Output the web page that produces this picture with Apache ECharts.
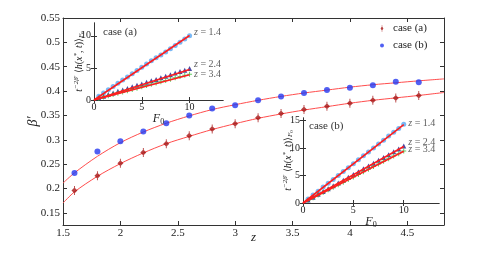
<!DOCTYPE html>
<html><head><meta charset="utf-8">
<script src="https://cdn.jsdelivr.net/npm/echarts@6/dist/echarts.min.js"></script>
<style>html,body{margin:0;padding:0;background:#fff}#c{width:491px;height:253px}</style>
</head><body><div id="c"></div>
<script>
// ---- main chart data ----
const zVals   = [1.6,1.8,2.0,2.2,2.4,2.6,2.8,3.0,3.2,3.4,3.6,3.8,4.0,4.2,4.4,4.6];
const betaA   = [0.196,0.226,0.252,0.274,0.292,0.308,0.322,0.333,0.345,0.354,0.362,0.369,0.375,0.381,0.386,0.391];
const betaB   = [0.232,0.276,0.297,0.317,0.334,0.350,0.364,0.371,0.381,0.389,0.396,0.402,0.407,0.412,0.419,0.418];
const fitZ    = [1.5,1.6,1.8,2.0,2.2,2.4,2.6,2.8,3.0,3.2,3.4,3.6,3.8,4.0,4.2,4.4,4.6,4.82];
const fitA    = [0.170,0.193,0.225,0.251,0.273,0.292,0.307,0.321,0.333,0.344,0.353,0.361,0.368,0.375,0.381,0.386,0.391,0.397];
const fitB    = [0.211,0.232,0.266,0.294,0.316,0.334,0.349,0.362,0.372,0.381,0.389,0.396,0.402,0.408,0.413,0.417,0.421,0.425];
const xTicks  = [1.5,2,2.5,3,3.5,4,4.5];
const yTicks  = [0.15,0.2,0.25,0.3,0.35,0.4,0.45,0.5,0.55];
// ---- inset data ----
const F0 = [0.5,1,1.5,2,2.5,3,3.5,4,4.5,5,5.5,6,6.5,7,7.5,8,8.5,9,9.5,10];
const insA_z14 = [0.6,1.1,1.6,2.1,2.6,3.1,3.6,4.1,4.6,5.1,5.6,6.1,6.6,7.0,7.5,8.0,8.5,9.0,9.5,10.0];
const insA_z24 = [0.35,0.6,0.85,1.1,1.35,1.55,1.8,2.05,2.3,2.5,2.75,3.0,3.2,3.45,3.7,3.95,4.2,4.45,4.65,4.9];
const insA_z34 = [0.25,0.45,0.65,0.85,1.05,1.25,1.45,1.65,1.85,2.05,2.25,2.45,2.65,2.85,3.05,3.25,3.45,3.65,3.85,4.0];
const insB_z14 = [0.75,1.45,2.15,2.9,3.6,4.3,5.0,5.75,6.45,7.15,7.9,8.6,9.3,10.05,10.75,11.45,12.2,12.9,13.6,14.35];
const insB_z24 = [0.55,1.05,1.6,2.1,2.6,3.15,3.65,4.15,4.7,5.2,5.7,6.25,6.75,7.25,7.8,8.3,8.8,9.35,9.85,10.4];
const insB_z34 = [0.5,0.95,1.45,1.9,2.4,2.85,3.35,3.8,4.3,4.75,5.2,5.7,6.15,6.65,7.1,7.6,8.05,8.55,9.0,9.5];
const fitF0 = [0,10];
const insA_fit14 = [0,10.05], insA_fit24 = [0,4.75], insA_fit34 = [0,3.95];
const insB_fit14 = [0,14.3],  insB_fit24 = [0,10.3], insB_fit34 = [0,9.45];
const insTicksX = [0,5,10];
const insATicksY = [0,5,10];
const insBTicksY = [0,5,10,15];

const FONT = 'Liberation Serif';
const AX = '#333';
const pair = (xs, ys) => xs.map((x,i)=>[x, ys[i]]);

const diamondBar = 'path://M0,-10 L6,0 L0,10 L-6,0 Z M-0.9,-15 L0.9,-15 L0.9,15 L-0.9,15 Z';
const plusPath = 'path://M-1,-5 L1,-5 L1,-1 L5,-1 L5,1 L1,1 L1,5 L-1,5 L-1,1 L-5,1 L-5,-1 L-1,-1 Z';

function axisPair(grid, min, max, ticks, isX, opts) {
  const z = opts.z || 0;
  const base = {
    type:'value', gridIndex:grid, min:min, max:max, z:z,
    axisLine:{show:true, lineStyle:{color:AX, width:1}},
    axisTick:{show:true, inside:true, length:opts.tickLen||4, customValues:ticks, lineStyle:{color:AX}},
    splitLine:{show:false}
  };
  const a = Object.assign({}, base, {
    position: isX ? 'bottom' : 'left',
    nameMoveOverlap:false,
    axisLabel:{show:true, customValues:ticks, fontFamily:FONT, fontSize:opts.fs||11, color:'#222', margin:opts.margin||3},
  }, opts.extra||{});
  const b = Object.assign({}, base, {
    position: isX ? 'top' : 'right',
    axisLabel:{show:false}
  });
  return [a,b];
}

const xAxes = [], yAxes = [];
// main
xAxes.push(...axisPair(0, 1.5, 4.82, xTicks, true, {fs:11, margin:3, extra:{
  name:'z', nameLocation:'middle', nameGap:6, nameMoveOverlap:false,
  nameTextStyle:{fontFamily:FONT, fontStyle:'italic', fontSize:13, color:'#222', verticalAlign:'top'}}}));
yAxes.push(...axisPair(0, 0.125, 0.55, yTicks, false, {fs:11, margin:3, extra:{
  name:'β′', nameLocation:'middle', nameGap:23, nameRotate:90, nameMoveOverlap:false,
  nameTextStyle:{fontFamily:FONT, fontStyle:'italic', fontSize:14, color:'#222'}}}));
// inset a
const yName = '{t|t}{sup|−2β′}{n| ⟨}{t|h}{n|(}{t|x}{sup|*}{n|, }{t|t}{n|)⟩}{sub|F}{sub2|0}';
const yNameStyle = {fontFamily:FONT, color:'#222', fontSize:10,
  rich:{
    t:{fontFamily:FONT, fontStyle:'italic', fontSize:10, color:'#222'},
    n:{fontFamily:FONT, fontSize:10, color:'#222'},
    sup:{fontFamily:FONT, fontStyle:'italic', fontSize:7, color:'#222', verticalAlign:'top', padding:[0,0,5,0]},
    sub:{fontFamily:FONT, fontStyle:'italic', fontSize:7, color:'#222', verticalAlign:'bottom', padding:[5,0,0,0]},
    sub2:{fontFamily:FONT, fontSize:5, color:'#222', verticalAlign:'bottom', padding:[7,0,0,0]}
  }};
const F0name = '{t|F}{s|0}';
const F0style = {fontFamily:FONT, fontSize:12, color:'#222',
  rich:{t:{fontFamily:FONT, fontStyle:'italic', fontSize:12, color:'#222'},
        s:{fontFamily:FONT, fontSize:8, color:'#222', verticalAlign:'bottom', padding:[6,0,0,0]}}};
xAxes.push(...axisPair(1, 0, 13.5, insTicksX, true, {z:11, fs:10, margin:2, tickLen:3, extra:{
  name:F0name, nameLocation:'middle', nameGap:12, nameMoveOverlap:false, nameTextStyle:F0style}}));
yAxes.push(...axisPair(1, 0, 12, insATicksY, false, {z:11, fs:10, margin:3, tickLen:3, extra:{
  name:yName, nameLocation:'middle', nameGap:9, nameRotate:90, nameMoveOverlap:false, nameTextStyle:yNameStyle}}));
// inset b
xAxes.push(...axisPair(2, 0, 13.5, insTicksX, true, {z:11, fs:10, margin:2, tickLen:3, extra:{
  name:F0name, nameLocation:'middle', nameGap:12, nameMoveOverlap:false, nameTextStyle:F0style}}));
yAxes.push(...axisPair(2, 0, 15.5, insBTicksY, false, {z:11, fs:10, margin:3, tickLen:3, extra:{
  name:yName, nameLocation:'middle', nameGap:9, nameRotate:90, nameMoveOverlap:false, nameTextStyle:yNameStyle}}));

const LBLUE = '#58a6f2', NAVY = '#1b1b8c', GREEN = '#3cc03c', RED = '#ff1e1e';

function zLabel(txt, off) {
  return {show:true, position:'right', distance:2, offset:off,
    formatter:'{i|z}{n| = ' + txt + '}',
    rich:{i:{fontFamily:FONT, fontStyle:'italic', fontSize:10, color:'#333'},
          n:{fontFamily:FONT, fontSize:10, color:'#333'}}};
}
function insetScatter(xi, yi, ys, sym, size, color, label, off) {
  const data = pair(F0, ys).map((p,i)=> i===ys.length-1 ? {value:p, label:zLabel(label, off)} : p);
  return {type:'scatter', xAxisIndex:xi, yAxisIndex:yi, data:data, symbol:sym, symbolSize:size,
    itemStyle:{color:color}, z:12, silent:true, label:{show:false}};
}
function insetFit(xi, yi, ys) {
  return {type:'line', xAxisIndex:xi, yAxisIndex:yi, data:pair(fitF0, ys), showSymbol:false,
    lineStyle:{color:RED, width:1.6}, z:13, silent:true};
}

const series = [
  {type:'line', name:'fitA', xAxisIndex:0, yAxisIndex:0, data:pair(fitZ, fitA), smooth:0.3, showSymbol:false,
   lineStyle:{color:'#ff4d4d', width:1}, z:2},
  {type:'line', name:'fitB', xAxisIndex:0, yAxisIndex:0, data:pair(fitZ, fitB), smooth:0.3, showSymbol:false,
   lineStyle:{color:'#ff4d4d', width:1}, z:2},
  {type:'scatter', name:'case (a)', xAxisIndex:0, yAxisIndex:0, data:pair(zVals, betaA), symbol:diamondBar,
   symbolSize:[6,9], itemStyle:{color:'#a51212'}, z:3},
  {type:'scatter', name:'case (b)', xAxisIndex:0, yAxisIndex:0, data:pair(zVals, betaB), symbol:'circle',
   symbolSize:6, itemStyle:{color:'#2438f0'}, z:3},
  // inset a
  insetScatter(2, 2, insA_z14, 'circle', 5, LBLUE, '1.4', [0,-3]),
  insetScatter(2, 2, insA_z24, 'triangle', 5, NAVY, '2.4', [0,-4]),
  insetScatter(2, 2, insA_z34, plusPath, 5, GREEN, '3.4', [0,0]),
  insetFit(2, 2, insA_fit14), insetFit(2, 2, insA_fit24), insetFit(2, 2, insA_fit34),
  // inset b
  insetScatter(4, 4, insB_z14, 'circle', 5, LBLUE, '1.4', [0,-1]),
  insetScatter(4, 4, insB_z24, 'triangle', 5, NAVY, '2.4', [0,-4]),
  insetScatter(4, 4, insB_z34, plusPath, 5, GREEN, '3.4', [0,-2]),
  insetFit(4, 4, insB_fit14), insetFit(4, 4, insB_fit24), insetFit(4, 4, insB_fit34)
];

const chart = echarts.init(document.getElementById('c'), null, {renderer:'canvas'});
chart.setOption({
  animation:false,
  backgroundColor:'#fff',
  grid:[
    {left:63, top:18, width:381, height:207, show:false},
    {left:94, top:23, width:129, height:77, show:true, backgroundColor:'#fff', borderWidth:0, z:10},
    {left:303, top:118, width:136, height:85, show:true, backgroundColor:'#fff', borderWidth:0, z:10}
  ],
  xAxis:xAxes, yAxis:yAxes, series:series,
  legend:{data:[{name:'case (a)', icon:diamondBar}, {name:'case (b)', icon:'circle', itemStyle:{color:'#2438f0', borderWidth:0}}],
    orient:'vertical', left:380, top:23,
    itemWidth:4, itemHeight:7, itemGap:6, itemStyle:{borderWidth:0}, symbolKeepAspect:true,
    textStyle:{fontFamily:FONT, fontSize:11, color:'#222', padding:[0,0,0,4]}, padding:0, selectedMode:false},
  title:[
    {text:'case (a)', left:103, top:27, padding:0, z:20, textStyle:{fontFamily:FONT, fontSize:11, fontWeight:'normal', color:'#333'}},
    {text:'case (b)', left:309, top:121, padding:0, z:20, textStyle:{fontFamily:FONT, fontSize:11, fontWeight:'normal', color:'#333'}}
  ]
});
</script></body></html>
